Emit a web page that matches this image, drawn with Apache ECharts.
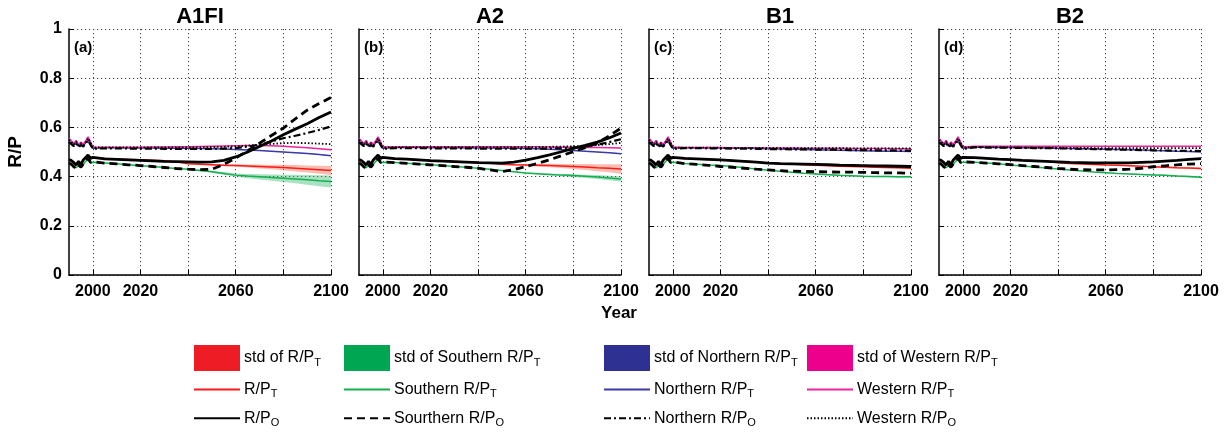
<!DOCTYPE html>
<html>
<head>
<meta charset="utf-8">
<script src="https://cdn.jsdelivr.net/npm/echarts@6/dist/echarts.min.js"></script>
<style>
  html, body { margin: 0; padding: 0; background: #fff; }
  #chart { width: 1230px; height: 440px; }
</style>
</head>
<body>
<div id="chart"></div>
<script>
// observed decade yearly, scenario period every 5 years
const histYears = [1990, 1991, 1992, 1993, 1994, 1995, 1996, 1997, 1998, 1999, 2000];
const futYears = [2005, 2010, 2015, 2020, 2025, 2030, 2035, 2040, 2045, 2050,
                  2055, 2060, 2065, 2070, 2075, 2080, 2085, 2090, 2095, 2100];
const scenarios = ['A1FI', 'A2', 'B1', 'B2'];
const panelTags = ['(a)', '(b)', '(c)', '(d)'];
const xLabelYears = [2000, 2020, 2060, 2100];
const xGridYears = [2000, 2020, 2040, 2060, 2080, 2100];

// shared observed part
const histRPT   = [0.468, 0.463, 0.456, 0.450, 0.460, 0.452, 0.466, 0.476, 0.485, 0.472, 0.476];
const histST    = [0.452, 0.448, 0.442, 0.436, 0.445, 0.440, 0.450, 0.462, 0.470, 0.456, 0.458];
const histNT    = [0.545, 0.535, 0.527, 0.538, 0.523, 0.532, 0.525, 0.537, 0.552, 0.533, 0.515];
const histWT    = [0.556, 0.545, 0.535, 0.547, 0.530, 0.540, 0.532, 0.545, 0.562, 0.542, 0.520];
const histRPO   = [0.470, 0.465, 0.458, 0.447, 0.462, 0.450, 0.468, 0.478, 0.488, 0.474, 0.478];
const histSO    = [0.455, 0.450, 0.440, 0.432, 0.447, 0.438, 0.452, 0.465, 0.474, 0.458, 0.460];
const histNO    = [0.540, 0.532, 0.524, 0.535, 0.520, 0.528, 0.522, 0.533, 0.548, 0.530, 0.513];
const histWO    = [0.550, 0.540, 0.530, 0.542, 0.527, 0.536, 0.528, 0.540, 0.556, 0.538, 0.518];
const histStd   = [0, 0, 0, 0, 0, 0, 0, 0, 0, 0, 0];

// A1FI
const a1RPT = [0.474, 0.472, 0.470, 0.468, 0.466, 0.464, 0.460, 0.452, 0.450, 0.448, 0.446, 0.445, 0.443, 0.441, 0.439, 0.437, 0.434, 0.431, 0.428, 0.425];
const a1ST  = [0.455, 0.452, 0.448, 0.444, 0.441, 0.437, 0.433, 0.430, 0.425, 0.420, 0.413, 0.406, 0.402, 0.399, 0.396, 0.393, 0.390, 0.387, 0.383, 0.380];
const a1NT  = [0.517, 0.517, 0.516, 0.516, 0.516, 0.515, 0.515, 0.515, 0.514, 0.513, 0.512, 0.510, 0.508, 0.506, 0.503, 0.500, 0.497, 0.494, 0.490, 0.485];
const a1WT  = [0.519, 0.519, 0.519, 0.519, 0.520, 0.520, 0.521, 0.521, 0.522, 0.523, 0.524, 0.525, 0.526, 0.526, 0.525, 0.523, 0.520, 0.517, 0.513, 0.509];
const a1RPO = [0.472, 0.470, 0.468, 0.466, 0.464, 0.462, 0.461, 0.460, 0.459, 0.460, 0.466, 0.480, 0.500, 0.522, 0.545, 0.570, 0.593, 0.615, 0.640, 0.663];
const a1SO  = [0.455, 0.452, 0.448, 0.445, 0.441, 0.437, 0.433, 0.430, 0.428, 0.430, 0.450, 0.475, 0.505, 0.536, 0.567, 0.597, 0.635, 0.670, 0.697, 0.722];
const a1NO  = [0.515, 0.515, 0.514, 0.514, 0.514, 0.513, 0.513, 0.513, 0.513, 0.513, 0.514, 0.516, 0.522, 0.530, 0.543, 0.556, 0.566, 0.577, 0.590, 0.604];
const a1WO  = [0.519, 0.519, 0.519, 0.519, 0.519, 0.519, 0.519, 0.519, 0.519, 0.520, 0.521, 0.523, 0.526, 0.529, 0.533, 0.536, 0.537, 0.536, 0.534, 0.532];
const a1SdR = [0, 0, 0, 0, 0, 0, 0, 0.002, 0.004, 0.006, 0.008, 0.010, 0.013, 0.016, 0.019, 0.022, 0.026, 0.029, 0.032, 0.036];
const a1SdS = [0, 0, 0, 0, 0, 0, 0.002, 0.004, 0.006, 0.008, 0.011, 0.014, 0.018, 0.022, 0.026, 0.030, 0.035, 0.040, 0.044, 0.048];

// A2
const a2RPT = [0.473, 0.471, 0.468, 0.465, 0.463, 0.461, 0.459, 0.457, 0.454, 0.450, 0.448, 0.447, 0.446, 0.445, 0.443, 0.441, 0.439, 0.436, 0.434, 0.431];
const a2ST  = [0.457, 0.454, 0.451, 0.448, 0.445, 0.441, 0.438, 0.434, 0.430, 0.425, 0.420, 0.415, 0.412, 0.409, 0.406, 0.404, 0.401, 0.398, 0.394, 0.390];
const a2NT  = [0.518, 0.518, 0.518, 0.517, 0.517, 0.517, 0.516, 0.516, 0.516, 0.515, 0.515, 0.514, 0.513, 0.511, 0.509, 0.506, 0.503, 0.500, 0.497, 0.493];
const a2WT  = [0.521, 0.521, 0.521, 0.521, 0.521, 0.521, 0.521, 0.521, 0.521, 0.521, 0.521, 0.521, 0.521, 0.520, 0.520, 0.519, 0.518, 0.518, 0.517, 0.516];
const a2RPO = [0.473, 0.471, 0.468, 0.465, 0.463, 0.461, 0.459, 0.457, 0.456, 0.455, 0.459, 0.467, 0.477, 0.488, 0.501, 0.515, 0.527, 0.540, 0.557, 0.577];
const a2SO  = [0.457, 0.454, 0.451, 0.448, 0.445, 0.441, 0.438, 0.434, 0.427, 0.420, 0.428, 0.441, 0.454, 0.468, 0.485, 0.502, 0.518, 0.536, 0.565, 0.597];
const a2NO  = [0.516, 0.516, 0.516, 0.515, 0.515, 0.515, 0.515, 0.514, 0.514, 0.514, 0.514, 0.514, 0.514, 0.514, 0.515, 0.517, 0.522, 0.530, 0.540, 0.552];
const a2WO  = [0.520, 0.520, 0.520, 0.520, 0.520, 0.520, 0.520, 0.520, 0.520, 0.520, 0.520, 0.520, 0.520, 0.521, 0.522, 0.523, 0.525, 0.528, 0.532, 0.537];
const a2SdR = [0, 0, 0, 0, 0, 0, 0, 0, 0, 0.004, 0.006, 0.008, 0.011, 0.014, 0.017, 0.020, 0.024, 0.028, 0.032, 0.038];
const a2SdS = [0, 0, 0, 0, 0, 0, 0, 0, 0, 0.002, 0.003, 0.004, 0.006, 0.008, 0.010, 0.012, 0.014, 0.016, 0.018, 0.020];

// B1
const b1RPT = [0.474, 0.472, 0.470, 0.468, 0.465, 0.462, 0.459, 0.455, 0.453, 0.451, 0.448, 0.446, 0.444, 0.442, 0.441, 0.440, 0.438, 0.437, 0.436, 0.434];
const b1ST  = [0.453, 0.450, 0.447, 0.445, 0.441, 0.436, 0.431, 0.426, 0.422, 0.418, 0.414, 0.411, 0.408, 0.405, 0.403, 0.401, 0.400, 0.400, 0.399, 0.399];
const b1NT  = [0.517, 0.517, 0.516, 0.516, 0.515, 0.515, 0.514, 0.513, 0.512, 0.511, 0.510, 0.509, 0.508, 0.507, 0.506, 0.505, 0.504, 0.503, 0.503, 0.502];
const b1WT  = [0.518, 0.518, 0.518, 0.518, 0.517, 0.517, 0.517, 0.516, 0.516, 0.516, 0.515, 0.515, 0.515, 0.515, 0.514, 0.514, 0.514, 0.514, 0.513, 0.513];
const b1RPO = [0.474, 0.472, 0.470, 0.468, 0.465, 0.462, 0.459, 0.455, 0.453, 0.452, 0.451, 0.450, 0.449, 0.447, 0.446, 0.445, 0.444, 0.443, 0.442, 0.441];
const b1SO  = [0.453, 0.450, 0.446, 0.441, 0.438, 0.434, 0.430, 0.427, 0.424, 0.422, 0.421, 0.420, 0.419, 0.418, 0.418, 0.417, 0.416, 0.415, 0.415, 0.414];
const b1NO  = [0.516, 0.516, 0.515, 0.515, 0.514, 0.514, 0.513, 0.512, 0.512, 0.511, 0.511, 0.510, 0.510, 0.509, 0.508, 0.508, 0.507, 0.507, 0.506, 0.505];
const b1WO  = [0.518, 0.518, 0.518, 0.517, 0.517, 0.517, 0.517, 0.517, 0.516, 0.516, 0.516, 0.516, 0.516, 0.516, 0.515, 0.515, 0.515, 0.515, 0.515, 0.515];
const b1SdR = [0, 0, 0, 0, 0, 0, 0, 0, 0, 0.001, 0.002, 0.002, 0.003, 0.004, 0.004, 0.005, 0.006, 0.006, 0.007, 0.008];
const b1SdS = [0, 0, 0, 0, 0, 0, 0, 0, 0, 0.001, 0.002, 0.002, 0.003, 0.003, 0.004, 0.005, 0.005, 0.006, 0.007, 0.008];

// B2
const b2RPT = [0.477, 0.474, 0.471, 0.469, 0.466, 0.464, 0.462, 0.456, 0.453, 0.451, 0.449, 0.447, 0.446, 0.444, 0.442, 0.440, 0.438, 0.436, 0.435, 0.433];
const b2ST  = [0.458, 0.455, 0.452, 0.447, 0.443, 0.439, 0.435, 0.431, 0.427, 0.423, 0.419, 0.416, 0.413, 0.411, 0.409, 0.407, 0.405, 0.402, 0.400, 0.397];
const b2NT  = [0.519, 0.519, 0.518, 0.518, 0.517, 0.517, 0.516, 0.515, 0.514, 0.513, 0.512, 0.511, 0.510, 0.509, 0.508, 0.506, 0.505, 0.503, 0.502, 0.500];
const b2WT  = [0.523, 0.523, 0.523, 0.523, 0.523, 0.523, 0.523, 0.523, 0.523, 0.523, 0.523, 0.523, 0.523, 0.523, 0.523, 0.523, 0.523, 0.523, 0.523, 0.523];
const b2RPO = [0.477, 0.474, 0.471, 0.469, 0.466, 0.464, 0.462, 0.460, 0.458, 0.457, 0.456, 0.456, 0.456, 0.456, 0.458, 0.460, 0.463, 0.466, 0.470, 0.473];
const b2SO  = [0.458, 0.455, 0.452, 0.449, 0.445, 0.441, 0.437, 0.433, 0.430, 0.428, 0.427, 0.427, 0.428, 0.430, 0.434, 0.440, 0.444, 0.448, 0.451, 0.453];
const b2NO  = [0.519, 0.518, 0.518, 0.517, 0.517, 0.516, 0.516, 0.515, 0.514, 0.513, 0.512, 0.511, 0.510, 0.509, 0.508, 0.507, 0.506, 0.505, 0.505, 0.504];
const b2WO  = [0.520, 0.520, 0.519, 0.519, 0.518, 0.518, 0.518, 0.517, 0.517, 0.517, 0.516, 0.516, 0.516, 0.516, 0.516, 0.516, 0.516, 0.516, 0.516, 0.516];
const b2SdR = [0, 0, 0, 0, 0, 0, 0, 0, 0, 0.001, 0.002, 0.002, 0.003, 0.004, 0.004, 0.005, 0.006, 0.006, 0.007, 0.008];
const b2SdS = [0, 0, 0, 0, 0, 0, 0, 0, 0, 0.001, 0.002, 0.002, 0.003, 0.003, 0.004, 0.005, 0.005, 0.006, 0.007, 0.008];

// northern / western spread is hardly visible in any scenario
const stdNorth = [0, 0, 0, 0, 0, 0, 0, 0, 0, 0, 0, 0.001, 0.001, 0.001, 0.002, 0.002, 0.002, 0.003, 0.003, 0.003];
const stdWest  = [0, 0, 0, 0, 0, 0, 0, 0, 0, 0, 0, 0.001, 0.001, 0.001, 0.001, 0.002, 0.002, 0.002, 0.002, 0.003];

const panels = [
  { rpt: a1RPT, st: a1ST, nt: a1NT, wt: a1WT, rpo: a1RPO, so: a1SO, no: a1NO, wo: a1WO, sdR: a1SdR, sdS: a1SdS },
  { rpt: a2RPT, st: a2ST, nt: a2NT, wt: a2WT, rpo: a2RPO, so: a2SO, no: a2NO, wo: a2WO, sdR: a2SdR, sdS: a2SdS },
  { rpt: b1RPT, st: b1ST, nt: b1NT, wt: b1WT, rpo: b1RPO, so: b1SO, no: b1NO, wo: b1WO, sdR: b1SdR, sdS: b1SdS },
  { rpt: b2RPT, st: b2ST, nt: b2NT, wt: b2WT, rpo: b2RPO, so: b2SO, no: b2NO, wo: b2WO, sdR: b2SdR, sdS: b2SdS }
];

const years = histYears.concat(futYears);
const FONT = 'Liberation Sans, Arial, sans-serif';
const gridLefts = [69, 359, 649, 939];
const gridW = 262, gridTop = 29, gridH = 246;

function pairs(hist, fut) {
  const ys = hist.concat(fut);
  return years.map((yr, i) => [yr, ys[i]]);
}

const chart = echarts.init(document.getElementById('chart'));

const grids = [], xAxes = [], yAxes = [], series = [], graphics = [];

panels.forEach((p, i) => {
  grids.push({ left: gridLefts[i], top: gridTop, width: gridW, height: gridH });

  xAxes.push({
    type: 'value', gridIndex: i, min: 1990, max: 2100,
    axisLine: { lineStyle: { color: '#000', width: 1.5 } },
    axisTick: { inside: true, length: 5, customValues: xGridYears, lineStyle: { color: '#000' } },
    axisLabel: {
      customValues: xLabelYears, margin: 9, formatter: v => String(v),
      color: '#000', fontWeight: 'bold', fontSize: 16, fontFamily: FONT
    },
    splitLine: { show: true, lineStyle: { color: '#444', type: [1.2, 2.8], width: 1 } }
  });

  yAxes.push({
    type: 'value', gridIndex: i, min: 0, max: 1, interval: 0.2,
    name: i === 0 ? 'R/P' : '', nameLocation: 'middle', nameGap: 44, nameRotate: 90,
    nameTextStyle: { color: '#000', fontWeight: 'bold', fontSize: 19, fontFamily: FONT },
    axisLine: { show: true, lineStyle: { color: '#000', width: 1.5 } },
    axisTick: { show: true, inside: true, length: 5, lineStyle: { color: '#000' } },
    axisLabel: {
      show: i === 0, margin: 7, color: '#000', fontWeight: 'bold', fontSize: 16, fontFamily: FONT,
      formatter: v => String(Math.round(v * 10) / 10)
    },
    splitLine: { show: true, lineStyle: { color: '#444', type: [1.2, 2.8], width: 1 } }
  });

  // std bands: one polygon per band, built from the data through the axes
  const bands = [
    { name: 'std of R/P_T', c: histRPT, cf: p.rpt, sd: p.sdR, fill: 'rgba(242,110,80,0.45)', color: '#ee1c24' },
    { name: 'std of Southern R/P_T', c: histST, cf: p.st, sd: p.sdS, fill: 'rgba(40,180,100,0.40)', color: '#00a651' },
    { name: 'std of Northern R/P_T', c: histNT, cf: p.nt, sd: stdNorth, fill: 'rgba(46,49,146,0.35)', color: '#2e3192' },
    { name: 'std of Western R/P_T', c: histWT, cf: p.wt, sd: stdWest, fill: 'rgba(236,0,140,0.35)', color: '#ec008c' }
  ];
  bands.forEach(b => {
    const center = b.c.concat(b.cf);
    const width = histStd.concat(b.sd);
    const rows = years.map((yr, j) => [yr, center[j] - width[j] / 2, center[j] + width[j] / 2]);
    series.push({
      name: b.name, type: 'custom', xAxisIndex: i, yAxisIndex: i, z: 1,
      silent: true, itemStyle: { color: b.color },
      encode: { x: 0, y: [1, 2] },
      data: rows,
      renderItem: (params, api) => {
        if (params.dataIndex !== 0) return null;
        const upper = rows.map(r => api.coord([r[0], r[2]]));
        const lower = rows.map(r => api.coord([r[0], r[1]])).reverse();
        return {
          type: 'polygon',
          shape: { points: upper.concat(lower) },
          style: { fill: b.fill, stroke: null }
        };
      }
    });
  });

  const lines = [
    { name: 'R/P_T', h: histRPT, f: p.rpt, color: '#ff1a1a', width: 1.5, type: 'solid', z: 3 },
    { name: 'Southern R/P_T', h: histST, f: p.st, color: '#14b050', width: 1.5, type: 'solid', z: 3 },
    { name: 'Northern R/P_T', h: histNT, f: p.nt, color: '#3a3aa8', width: 1.5, type: 'solid', z: 3 },
    { name: 'Western R/P_T', h: histWT, f: p.wt, color: '#f0249a', width: 1.5, type: 'solid', z: 3 },
    { name: 'R/P_O', h: histRPO, f: p.rpo, color: '#000', width: 2.8, type: 'solid', z: 4 },
    { name: 'Sourthern R/P_O', h: histSO, f: p.so, color: '#000', width: 2.8, type: [8, 5], z: 4 },
    { name: 'Northern R/P_O', h: histNO, f: p.no, color: '#000', width: 2.2, type: [7, 3, 2, 3], z: 4 },
    { name: 'Western R/P_O', h: histWO, f: p.wo, color: '#000', width: 1.8, type: [1.5, 2], z: 4 }
  ];
  lines.forEach(l => {
    series.push({
      name: l.name, type: 'line', xAxisIndex: i, yAxisIndex: i, z: l.z,
      symbol: 'none', silent: true, color: l.color,
      lineStyle: { color: l.color, width: l.width, type: l.type },
      data: pairs(l.h, l.f)
    });
  });

  graphics.push({
    type: 'text', x: gridLefts[i] + gridW / 2, y: 17,
    style: { text: scenarios[i], align: 'center', verticalAlign: 'middle',
             font: 'bold 22px ' + FONT, fill: '#000' }
  });
  graphics.push({
    type: 'text', x: gridLefts[i] + 5, y: 48,
    style: { text: panelTags[i], align: 'left', verticalAlign: 'middle',
             font: 'bold 15px ' + FONT, fill: '#000' }
  });
});

graphics.push({
  type: 'text', x: 619, y: 313,
  style: { text: 'Year', align: 'center', verticalAlign: 'middle', font: 'bold 17px ' + FONT, fill: '#000' }
});

const legendCols = [
  { left: 193, names: ['std of R/P_T', 'R/P_T', 'R/P_O'] },
  { left: 343, names: ['std of Southern R/P_T', 'Southern R/P_T', 'Sourthern R/P_O'] },
  { left: 603, names: ['std of Northern R/P_T', 'Northern R/P_T', 'Northern R/P_O'] },
  { left: 806, names: ['std of Western R/P_T', 'Western R/P_T', 'Western R/P_O'] }
];

const legends = legendCols.map(col => ({
  orient: 'vertical', left: col.left, top: 345, padding: 0,
  itemWidth: 46, itemHeight: 26, itemGap: 8, selectedMode: false,
  data: col.names.map((n, k) => k === 0 ? { name: n, icon: 'rect' } : { name: n, itemStyle: { opacity: 0 } }),
  formatter: name => name.replace(/_([TO])$/, '{s|$1}'),
  textStyle: {
    color: '#000', fontSize: 16, fontFamily: FONT, padding: [0, 0, 0, -1],
    rich: { s: { fontSize: 11, fontFamily: FONT, color: '#000', padding: [10, 0, 0, 0] } }
  }
}));

chart.setOption({
  animation: false,
  backgroundColor: '#fff',
  grid: grids,
  xAxis: xAxes,
  yAxis: yAxes,
  legend: legends,
  graphic: graphics,
  series: series
});
</script>
</body>
</html>
